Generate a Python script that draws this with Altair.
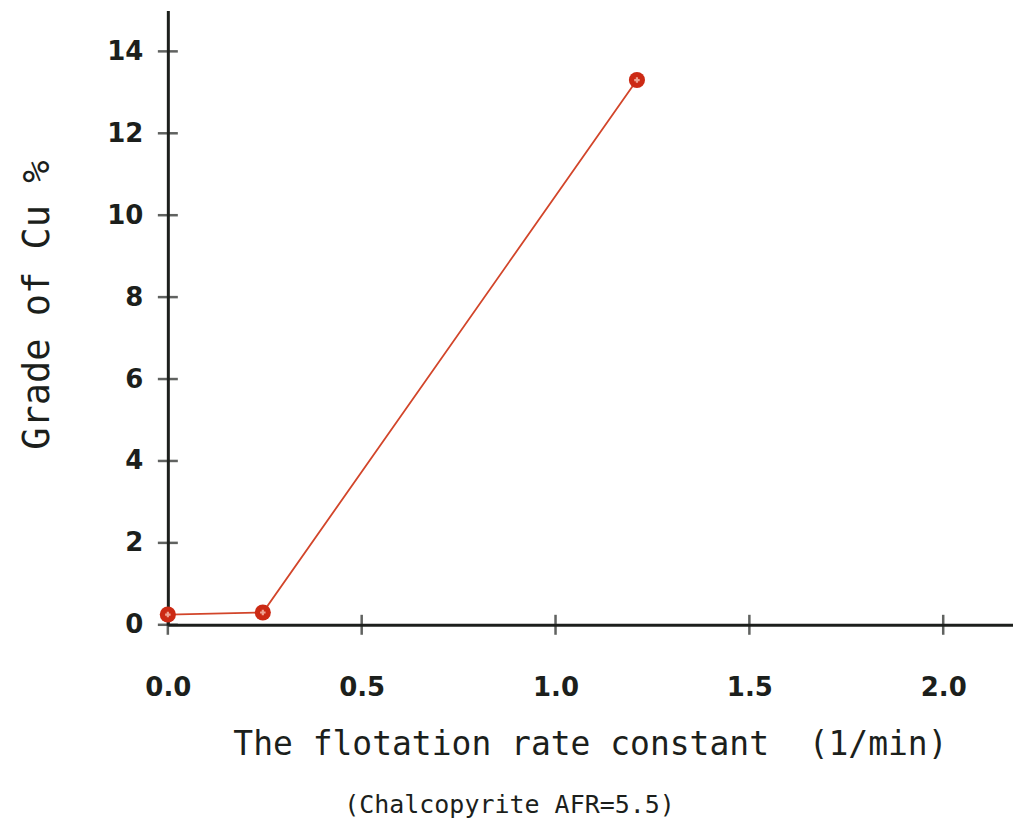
import altair as alt
import pandas as pd

# Data
rate_k = [0.0, 0.245, 1.21]
grade_cu = [0.25, 0.3, 13.3]

x_ticks = [0.0, 0.5, 1.0, 1.5, 2.0]
y_ticks = [0, 2, 4, 6, 8, 10, 12, 14]

y_title = "Grade of Cu %"
x_title_1 = "The flotation rate constant\u00a0\u00a0(1/min)"
x_title_2 = "(Chalcopyrite AFR=5.5)"

df = pd.DataFrame({"k": rate_k, "grade": grade_cu})
xt = pd.DataFrame({"xt": x_ticks})
yt = pd.DataFrame({"yt": y_ticks})

W, H = 846, 615
xs = alt.Scale(domain=[0, 2.18], nice=False, zero=False)
ys = alt.Scale(domain=[0, 15], nice=False)

RED = "#cc2a14"
INK = "#1c1f1c"

base = alt.Chart(df)

line = base.mark_line(color="#d2452a", strokeWidth=1.8).encode(
    x=alt.X("k:Q", scale=xs,
            axis=alt.Axis(values=x_ticks, format=".1f", title=None, grid=False,
                          tickSize=0, labelPadding=50, labelFontSize=26,
                          labelFlush=False, labelOverlap=False,
                          labelFont="DejaVu Sans", labelFontWeight="bold",
                          labelColor=INK, domainColor=INK, domainWidth=3)),
    y=alt.Y("grade:Q", scale=ys,
            axis=alt.Axis(values=y_ticks, format="d", title=None, grid=False,
                          tickSize=0, labelPadding=25, labelFontSize=26,
                          labelFlush=False, labelOverlap=False,
                          labelFont="DejaVu Sans", labelFontWeight="bold",
                          labelColor=INK, domainColor=INK, domainWidth=3)),
)

pts = base.mark_point(filled=True, shape="circle", size=260, color=RED, opacity=1).encode(
    x=alt.X("k:Q", scale=xs), y=alt.Y("grade:Q", scale=ys)
)
crosses = base.mark_point(shape="cross", size=30, color="#f3b0a0", filled=True, opacity=0.9).encode(
    x=alt.X("k:Q", scale=xs), y=alt.Y("grade:Q", scale=ys)
)

yticks = alt.Chart(yt).mark_tick(color=INK, thickness=2.5, size=20).encode(
    y=alt.Y("yt:Q", scale=ys), x=alt.value(0)
)
xticks = alt.Chart(xt).mark_tick(color=INK, thickness=2.5, size=20).encode(
    x=alt.X("xt:Q", scale=xs), y=alt.value(H)
)

tdf = pd.DataFrame({"a": [y_title], "b": [x_title_1], "c": [x_title_2]})
ytitle = alt.Chart(tdf).mark_text(angle=270, font="DejaVu Sans Mono", fontSize=37,
                                  color=INK, align="center", baseline="middle").encode(
    text="a:N", x=alt.value(-130), y=alt.value(295)
)
xtitle1 = alt.Chart(tdf).mark_text(font="DejaVu Sans Mono", fontSize=33,
                                   color=INK, align="center", baseline="middle").encode(
    text="b:N", x=alt.value(423), y=alt.value(735)
)
xtitle2 = alt.Chart(tdf).mark_text(font="DejaVu Sans Mono", fontSize=25,
                                   color=INK, align="center", baseline="middle").encode(
    text="c:N", x=alt.value(342), y=alt.value(795)
)

chart = alt.layer(line, xticks, yticks, pts, crosses, ytitle, xtitle1, xtitle2).properties(
    width=W, height=H,
    background="white",
    autosize=alt.AutoSizeParams(type="none"),
    padding={"left": 160, "top": 2, "right": 0, "bottom": 200},
).configure_view(stroke=None)

chart.save("out.html", embed_options={"renderer": "svg", "actions": False})
